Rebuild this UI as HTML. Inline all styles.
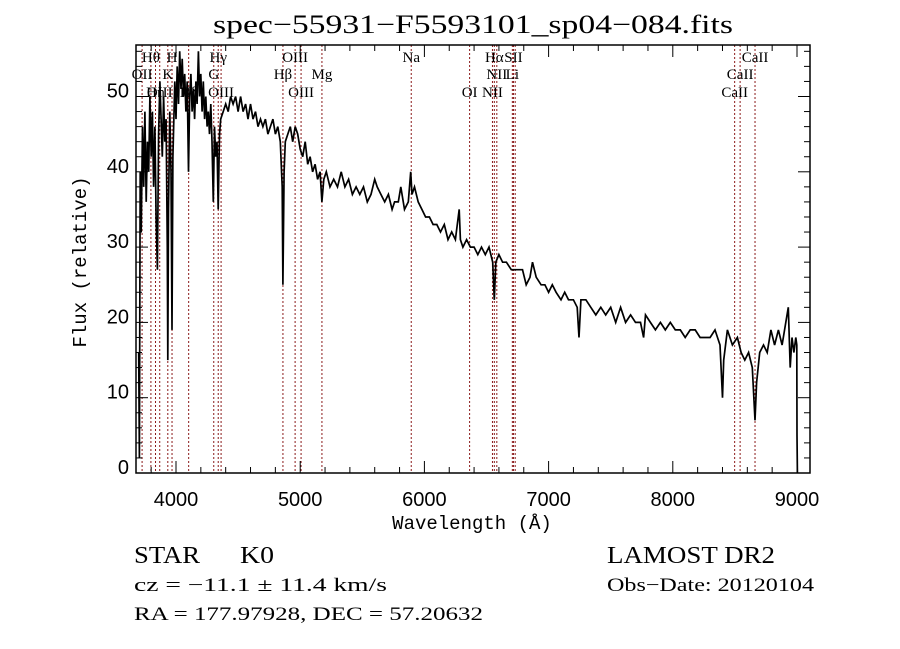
<!DOCTYPE html>
<html><head><meta charset="utf-8"><style>
html,body{margin:0;padding:0;background:#fff;}
svg{display:block;}
</style></head><body>
<svg id="chart" width="900" height="649" xmlns="http://www.w3.org/2000/svg">
<rect width="900" height="649" fill="#fff"/>
<text x="213" y="33" textLength="520" lengthAdjust="spacingAndGlyphs" font-family="Liberation Serif, serif" font-size="26">spec−55931−F5593101_sp04−084.fits</text>
<g id="lines"></g>
<g id="series"></g>
<g id="axes"></g>
<text x="472" y="529" text-anchor="middle" font-family="Liberation Mono, monospace" font-size="19">Wavelength (Å)</text>
<text transform="translate(86,262) rotate(-90)" text-anchor="middle" font-family="Liberation Mono, monospace" font-size="19">Flux (relative)</text>
<text x="134" y="563" textLength="66" lengthAdjust="spacingAndGlyphs" font-family="Liberation Serif, serif" font-size="24">STAR</text>
<text x="240" y="563" textLength="34" lengthAdjust="spacingAndGlyphs" font-family="Liberation Serif, serif" font-size="24">K0</text>
<text x="134" y="591" textLength="253" lengthAdjust="spacingAndGlyphs" font-family="Liberation Serif, serif" font-size="19">cz = −11.1 ± 11.4 km/s</text>
<text x="134" y="620" textLength="349" lengthAdjust="spacingAndGlyphs" font-family="Liberation Serif, serif" font-size="19">RA = 177.97928, DEC =  57.20632</text>
<text x="607" y="563" textLength="168" lengthAdjust="spacingAndGlyphs" font-family="Liberation Serif, serif" font-size="24">LAMOST DR2</text>
<text x="607" y="591" textLength="207" lengthAdjust="spacingAndGlyphs" font-family="Liberation Serif, serif" font-size="19">Obs−Date: 20120104</text>
</svg>
<script>
const wavelengths=[3700,3705,3712,3720,3730,3740,3750,3760,3770,3780,3790,3800,3810,3820,3830,3840,3850,3860,3870,3880,3890,3900,3910,3920,3930,3934,3940,3950,3960,3968,3975,3990,4000,4010,4020,4030,4040,4050,4060,4070,4080,4090,4101,4110,4120,4130,4140,4150,4160,4170,4180,4190,4200,4210,4220,4230,4240,4250,4260,4270,4280,4290,4300,4310,4320,4330,4340,4350,4360,4380,4400,4420,4440,4460,4480,4500,4520,4540,4560,4580,4600,4620,4640,4660,4680,4700,4720,4740,4760,4780,4800,4820,4840,4855,4861,4870,4880,4900,4920,4940,4960,4980,5000,5020,5040,5060,5080,5100,5120,5140,5160,5175,5190,5210,5240,5270,5300,5330,5360,5390,5420,5450,5480,5510,5540,5570,5600,5620,5650,5680,5710,5740,5760,5790,5810,5840,5870,5890,5900,5920,5950,5980,6010,6040,6070,6100,6130,6160,6190,6220,6250,6280,6290,6310,6340,6370,6400,6430,6460,6490,6520,6550,6563,6575,6600,6630,6660,6700,6730,6760,6790,6820,6850,6870,6900,6940,6970,7000,7030,7060,7100,7130,7160,7200,7230,7245,7260,7300,7340,7380,7420,7460,7500,7540,7580,7620,7660,7700,7740,7765,7780,7820,7860,7900,7940,7980,8020,8060,8100,8140,8180,8220,8260,8300,8340,8380,8400,8410,8440,8480,8520,8550,8580,8610,8640,8662,8675,8700,8730,8760,8790,8820,8850,8880,8910,8930,8945,8960,8975,8990,8998,9000,9003];
const fluxValues=[16,2,40,32,46,38,48,36,44,40,50,42,48,38,46,34,27,45,52,47,42,50,44,47,30,15,35,48,40,19,42,52,47,54,49,56,51,55,50,53,48,52,40,50,53,48,51,47,52,49,56,50,53,48,52,47,50,46,48,45,49,44,36,46,42,44,35,45,47,48,49,48,50,49,50,48,50,48,49,47,49,47,48,46,47,46,47,45,46,47,45,46,44,38,25,40,44,45,46,44,46,45,43,42,44,41,42,40,41,39,40,36,39,40,38,39,38,40,38,39,37,38,37,38,36,37,39,38,37,36,37,35,36,36,38,35,36,40,37,38,36,35,34,34,33,33,32,33,31,32,31,35,31,30,31,30,30,29,30,29,30,28,23,28,29,28,28,27,27,27,27,25,26,28,26,25,25,24,25,24,23,24,23,23,22,18,23,23,22,21,22,21,22,20,22,20,21,20,20,18,21,20,19,20,19,20,19,19,18,19,19,18,18,18,19,17,10,15,19,17,18,16,15,16,14,7,12,16,17,16,19,17,19,17,20,22,14,18,16,18,17,5,0];
const lineWaves=[3727,3798,3835,3869,3934,3968,4102,4304,4340,4363,4861,4959,5007,5175,5894,6364,6548,6563,6583,6708,6717,6731,8498,8542,8662];
const labelTexts=["OII","Hθ","OIII","Hη","K","H","Hδ","G","Hγ","OIII","Hβ","OIII","OIII","Mg","Na","OI","NII","Hα","NII","Li","SII","CaII","CaII","CaII"];
const labelWaves=[3727,3798,3869,3835,3934,3968,4102,4304,4340,4363,4861,4959,5007,5175,5894,6364,6583,6563,6548,6708,6717,8498,8542,8662];
const labelRows=[1,0,2,2,1,0,2,1,0,2,1,0,2,1,0,2,1,0,2,1,0,2,1,0];
const xTicks=[4000,5000,6000,7000,8000,9000];
const yTicks=[0,10,20,30,40,50];

const NS="http://www.w3.org/2000/svg";
const L=136,R=810,T=45,B=473;
function xs(w){return 176+(w-4000)*0.1242;}
function ys(v){return 473-v*7.53;}
function mk(tag,attrs,parent){const e=document.createElementNS(NS,tag);for(const k in attrs)e.setAttribute(k,attrs[k]);parent.appendChild(e);return e;}

const gl=document.getElementById('lines');
lineWaves.forEach(w=>{
  const ln=mk('line',{x1:xs(w),x2:xs(w),y1:T,y2:B,stroke:'#8b1a1a','stroke-width':1,'stroke-dasharray':'2,2'},gl);
  
  
});
const rowY=[62,79,97];
labelTexts.forEach((t,i)=>{
  const tx=mk('text',{x:xs(labelWaves[i]),y:rowY[labelRows[i]],'text-anchor':'middle','font-family':'Liberation Serif, serif','font-size':15},gl);
  tx.textContent=t;
  
  
});

const gs=document.getElementById('series');
let d='';
wavelengths.forEach((w,i)=>{d+=(i?'L':'M')+xs(w).toFixed(1)+','+ys(fluxValues[i]).toFixed(1);});
const cp=mk('clipPath',{id:'clip'},gs);mk('rect',{x:L,y:T,width:R-L,height:B-T},cp);
const p=mk('path',{d:d,fill:'none',stroke:'#000','stroke-width':1.7,'stroke-linejoin':'miter'},gs);


p.setAttribute('clip-path','url(#clip)');

const ga=document.getElementById('axes');
const frame=mk('rect',{x:L,y:T,width:R-L,height:B-T,fill:'none',stroke:'#000','stroke-width':1.5},ga);


for(let w=3800;w<=9000;w+=200){
  const major=w%1000===0, len=major?12:6;
  mk('line',{x1:xs(w),x2:xs(w),y1:B,y2:B-len,stroke:'#000'},ga);
  mk('line',{x1:xs(w),x2:xs(w),y1:T,y2:T+len,stroke:'#000'},ga);
}
for(let v=0;v<=56;v+=2){
  const major=v%10===0, len=major?12:6;
  mk('line',{x1:L,x2:L+len,y1:ys(v),y2:ys(v),stroke:'#000'},ga);
  mk('line',{x1:R,x2:R-len,y1:ys(v),y2:ys(v),stroke:'#000'},ga);
}
xTicks.forEach(w=>{
  const t=mk('text',{x:xs(w),y:506,'text-anchor':'middle','font-family':'Liberation Sans, sans-serif','font-size':20},ga);
  t.textContent=w;
  
  
});
yTicks.forEach(v=>{
  const t=mk('text',{x:129,y:ys(v)+1,'text-anchor':'end','font-family':'Liberation Sans, sans-serif','font-size':20},ga);
  t.textContent=v;
  
  
});
</script>
</body></html>
